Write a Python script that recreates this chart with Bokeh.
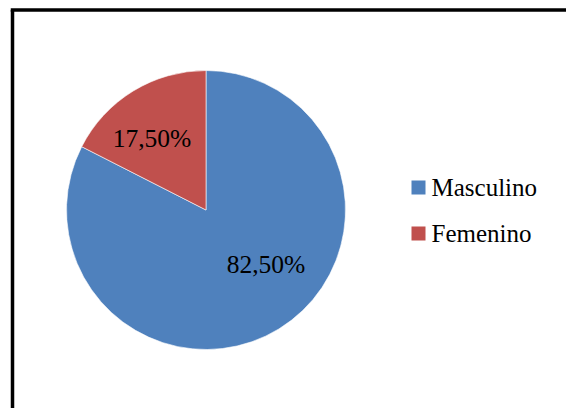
import math
from bokeh.plotting import figure
from bokeh.models import Range1d, ColumnDataSource
from bokeh.core.properties import value
from bokeh.embed import file_html
from bokeh.resources import INLINE

# ---- data ----
categories = ["Masculino", "Femenino"]
percentages = [82.5, 17.5]
labels = ["82,50%", "17,50%"]
colors = ["#4F81BD", "#C0504D"]

# ---- layout (pixel-like data space, y measured upward) ----
W, H = 566, 408
cx, cy, r = 205.5, H - 209.5, 139.5
FONT = value("Liberation Serif")

p = figure(width=W, height=H, output_backend="svg", toolbar_location=None,
           x_range=Range1d(0, W), y_range=Range1d(0, H), min_border=0)
p.axis.visible = False
p.grid.visible = False
p.outline_line_color = None
p.background_fill_color = "white"
p.border_fill_color = "white"

# wedges: start at 12 o'clock, first category clockwise
total = sum(percentages)
starts, ends = [], []
a = math.pi / 2
for v in percentages:
    sweep = 2 * math.pi * v / total
    starts.append(a - sweep)
    ends.append(a)
    a -= sweep
src = ColumnDataSource(dict(start=starts, end=ends, color=colors, cat=categories))
p.wedge(x=cx, y=cy, radius=r, start_angle="start", end_angle="end",
        fill_color="color", line_color="white", line_width=0.6, source=src)

# data labels (positions chosen like Excel best-fit)
label_offsets = [(60, -54.5), (-54, 71.5)]
lx = [cx + dx for dx, dy in label_offsets]
ly = [cy + dy for dx, dy in label_offsets]
p.text(x=lx, y=ly, text=labels, text_font=FONT, text_font_size="25.5px",
       text_align="center", text_baseline="middle", text_color="black")

# legend
leg_x = 411
leg_y0 = H - 187
leg_dy = 46
for i, (cat, col) in enumerate(zip(categories, colors)):
    yy = leg_y0 - i * leg_dy
    p.rect(x=leg_x + 7, y=yy, width=14, height=14, fill_color=col, line_color=None)
    p.text(x=[leg_x + 20], y=[yy], text=[cat], text_font=FONT, text_font_size="25px",
           text_align="left", text_baseline="middle", text_color="black")

# chart-area frame (left and top edges visible)
p.segment(x0=[12, 10.25], y0=[-20, H - 9.5], x1=[12, W + 10], y1=[H - 9.5, H - 9.5],
          line_color="black", line_width=3.5)

open("out.html", "w").write(file_html(p, INLINE))
